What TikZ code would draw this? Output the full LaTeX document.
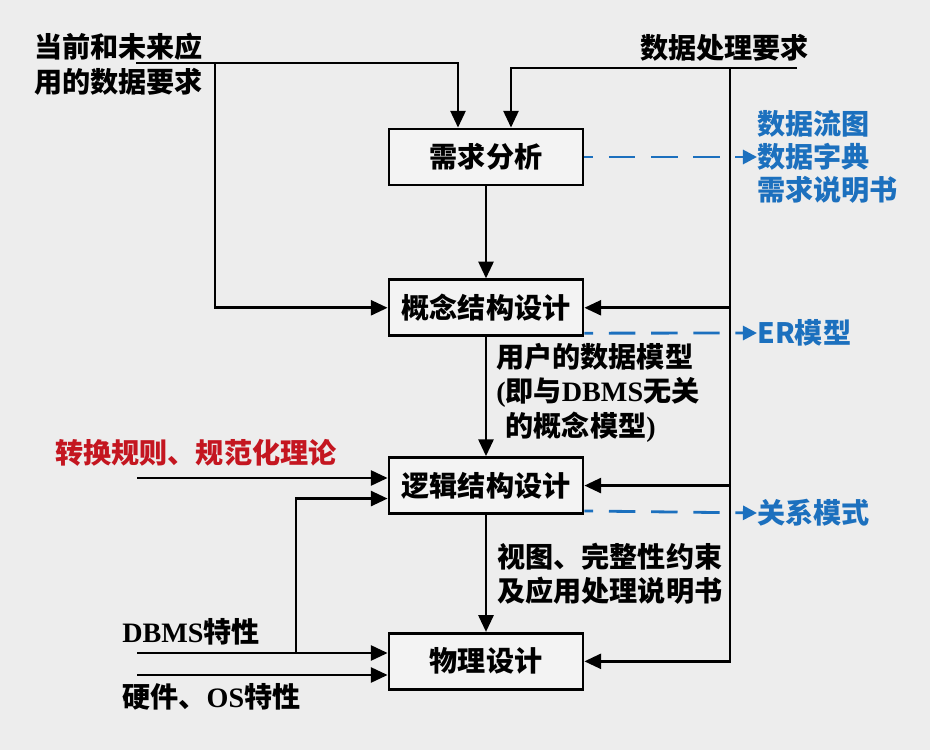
\documentclass[tikz,border=0pt]{standalone}
\usepackage{fontspec}
\setmainfont{Noto Sans CJK SC}
\newfontfamily\latinserif{Liberation Serif}
\usepackage{xcolor}
\usetikzlibrary{arrows.meta,positioning,calc}
\definecolor{bgcol}{RGB}{237,237,237}
\definecolor{boxcol}{RGB}{243,243,243}
\definecolor{outblue}{RGB}{28,112,190}
\definecolor{inred}{RGB}{196,22,32}
\tikzset{
  stage/.style={draw, line width=1.6pt, fill=boxcol, minimum width=3.88cm,
                minimum height=1.12cm, font=\fontsize{16}{20}\selectfont\bfseries},
  lbl/.style={align=left, inner sep=0pt, font=\fontsize{16}{19.5}\selectfont\bfseries},
  flow/.style={-{Triangle[length=9.5pt,width=8.5pt]}, line width=1.5pt},
  result/.style={-{Triangle[length=8pt,width=8pt]}, line width=1.6pt, outblue,
                 dash pattern=on 15pt off 9pt, dash phase=10pt},
}
\newcommand{\ser}[1]{{\latinserif\bfseries #1}}

\begin{document}
\begin{tikzpicture}[x=0.02cm, y=-0.02cm]
  \fill[bgcol] (0,0) rectangle (930,750);
  \useasboundingbox (0,0) rectangle (930,750);

  \node[stage] (req) at (486,157) {需求分析};
  \node[stage, below=1.84cm of req] (concept) {概念结构设计};
  \node[stage, below=2.38cm of concept] (logic) {逻辑结构设计};
  \node[stage, below=2.34cm of logic] (phys) {物理设计};

  \node[lbl, anchor=north west] (curdata) at (34,33) {当前和未来应\\用的数据要求};
  \node[lbl, anchor=west] (procreq) at (640,48) {数据处理要求};
  \node[lbl, anchor=west, text=inred] (rules) at (55,453) {转换规则、规范化理论};
  \node[lbl, anchor=west] (dbms) at (122,632) {\ser{DBMS}特性};
  \node[lbl, anchor=west] (hw) at (122,697) {硬件、\ser{OS}特性};

  \node[lbl, anchor=west, text=outblue, font=\fontsize{16}{19}\selectfont\bfseries] (reqdocs) at (757,157) {数据流图\\数据字典\\需求说明书};
  \node[lbl, anchor=west, text=outblue] (er) at (757,333) {ER模型};
  \node[lbl, anchor=west, text=outblue] (rel) at (757,513) {关系模式};

  \node[lbl, anchor=north west] (usermodel) at (496,343) {用户的数据模型\\\ser{(}即与\ser{DBMS}无关\\\phantom{\ser{(}}的概念模型\ser{)}};
  \node[lbl, anchor=north west] (views) at (497,543) {视图、完整性约束\\及应用处理说明书};

  \coordinate (cdstart) at (136,63);
  \coordinate (cdsplit) at (215,63);
  \coordinate (dpstart) at (797,68);
  \coordinate (dpsplit) at (730,68);
  \coordinate (rulesin) at (137,478);
  \coordinate (dbmsin) at (137,653);
  \coordinate (dbmssplit) at (296,653);
  \coordinate (hwin) at (137,675);

  \draw[flow] (cdstart) -| ([xshift=-0.56cm]req.north);
  \draw[flow] (cdsplit) |- (concept.west);
  \draw[flow] (dpstart) -| ([xshift=0.5cm]req.north);
  \draw[flow] (dpsplit) |- (concept.east);
  \draw[flow] (dpsplit) |- (logic.east);
  \draw[flow] (dpsplit) |- (phys.east);

  \draw[flow] (req) -- (concept);
  \draw[flow] (concept) -- (logic);
  \draw[flow] (logic) -- (phys);

  \draw[flow] (rulesin) -- (rulesin -| logic.west);
  \draw[flow] (dbmssplit) |- ([yshift=-0.26cm]logic.west);
  \draw[flow] (dbmsin) -- (dbmsin -| phys.west);
  \draw[flow] (hwin) -- (hwin -| phys.west);

  \draw[result] (req.east) -- (reqdocs.west);
  \draw[result] ([yshift=0.08cm]concept.south east) -- (er.west);
  \draw[result] ([yshift=0.08cm]logic.south east) -- (rel.west);
\end{tikzpicture}
\end{document}
